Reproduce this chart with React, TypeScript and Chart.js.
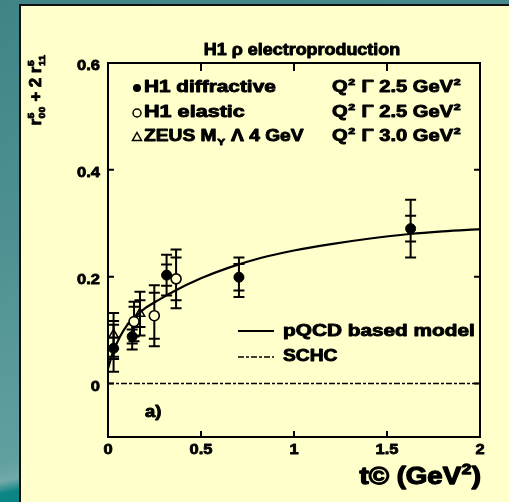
import React, { useEffect, useRef } from "react";
import { Chart, registerables } from "chart.js";

Chart.register(...registerables);

// pQCD based model curve
const modelT = [0, 0.03, 0.065, 0.1, 0.15, 0.2, 0.28, 0.35, 0.5, 0.65, 0.82, 1.0, 1.2, 1.4, 1.62, 1.8, 2.0];
const modelY = [0.028, 0.062, 0.088, 0.108, 0.126, 0.141, 0.158, 0.172, 0.197, 0.217, 0.235, 0.249, 0.261, 0.271, 0.28, 0.285, 0.289];

// SCHC expectation
const schcT = [0, 2];
const schcY = [0, 0];

// H1 diffractive
const diffT = [0.03, 0.13, 0.315, 0.704, 1.627];
const diffY = [0.066, 0.088, 0.203, 0.199, 0.29];
const diffStat = [0.02, 0.013, 0.02, 0.025, 0.024];
const diffTot = [0.044, 0.024, 0.038, 0.037, 0.054];

// H1 elastic
const elasT = [0.14, 0.249, 0.366];
const elasY = [0.116, 0.127, 0.196];
const elasStat = [0.028, 0.043, 0.04];
const elasTot = [0.037, 0.057, 0.055];

// ZEUS
const zeusT = [0.03, 0.172];
const zeusY = [0.091, 0.131];
const zeusStat = [0.026, 0.025];
const zeusTot = [0.041, 0.041];

const xTickValues = [0, 0.5, 1, 1.5, 2];
const xTickLabels = ["0", "0.5", "1", "1.5", "2"];
const yTickValues = [0, 0.2, 0.4, 0.6];
const yTickLabels = ["0", "0.2", "0.4", "0.6"];

const PANEL = "#FFFFCC";
const INK = "#000000";
const FAMILY = '"Liberation Sans", Arial, sans-serif';

type Piece = string | { sup?: string; sub?: string };

const fontOf = (size: number) => `bold ${size}px ${FAMILY}`;

function piecesWidth(ctx: CanvasRenderingContext2D, pieces: Piece[], size: number) {
  let w = 0;
  for (const p of pieces) {
    if (typeof p === "string") {
      ctx.font = fontOf(size);
      w += ctx.measureText(p).width;
    } else {
      ctx.font = fontOf(size * 0.62);
      w += Math.max(p.sup ? ctx.measureText(p.sup).width : 0, p.sub ? ctx.measureText(p.sub).width : 0) + 1;
    }
  }
  return w;
}

// heavy text: fill plus a thin stroke of the same ink
function heavyText(ctx: CanvasRenderingContext2D, s: string, x: number, y: number) {
  ctx.fillText(s, x, y);
  ctx.strokeText(s, x, y);
}

function drawRich(
  ctx: CanvasRenderingContext2D,
  pieces: Piece[],
  x: number,
  y: number,
  size: number,
  align: "left" | "center" | "right",
  stretch: number
) {
  const w = piecesWidth(ctx, pieces, size) * stretch;
  let x0 = x;
  if (align === "center") x0 = x - w / 2;
  if (align === "right") x0 = x - w;
  ctx.save();
  ctx.translate(x0, y);
  ctx.scale(stretch, 1);
  ctx.fillStyle = INK;
  ctx.strokeStyle = INK;
  ctx.lineWidth = Math.max(0.6, size * 0.055);
  ctx.lineJoin = "round";
  ctx.setLineDash([]);
  ctx.textAlign = "left";
  ctx.textBaseline = "middle";
  let cx = 0;
  for (const p of pieces) {
    if (typeof p === "string") {
      ctx.font = fontOf(size);
      heavyText(ctx, p, cx, 0);
      cx += ctx.measureText(p).width;
    } else {
      ctx.font = fontOf(size * 0.62);
      let sw = 0;
      if (p.sup) {
        heavyText(ctx, p.sup, cx + 0.5, -size * 0.36);
        sw = Math.max(sw, ctx.measureText(p.sup).width);
      }
      if (p.sub) {
        heavyText(ctx, p.sub, cx + 0.5, size * 0.3);
        sw = Math.max(sw, ctx.measureText(p.sub).width);
      }
      cx += sw + 1;
    }
  }
  ctx.restore();
}

const errorSets = [
  { t: diffT, y: diffY, stat: diffStat, tot: diffTot },
  { t: elasT, y: elasY, stat: elasStat, tot: elasTot },
  { t: zeusT, y: zeusY, stat: zeusStat, tot: zeusTot },
];

const errorBars = {
  id: "errorBars",
  beforeDatasetsDraw(chart: any) {
    const { ctx } = chart;
    const xs = chart.scales.x;
    const ys = chart.scales.y;
    const half = 5.5;
    ctx.save();
    ctx.strokeStyle = INK;
    ctx.lineWidth = 2;
    for (const s of errorSets) {
      s.t.forEach((t, i) => {
        const px = xs.getPixelForValue(t);
        const top = ys.getPixelForValue(s.y[i] + s.tot[i]);
        const bot = ys.getPixelForValue(s.y[i] - s.tot[i]);
        const sTop = ys.getPixelForValue(s.y[i] + s.stat[i]);
        const sBot = ys.getPixelForValue(s.y[i] - s.stat[i]);
        ctx.beginPath();
        ctx.moveTo(px, top);
        ctx.lineTo(px, bot);
        for (const cy of [top, bot, sTop, sBot]) {
          ctx.moveTo(px - half, cy);
          ctx.lineTo(px + half, cy);
        }
        ctx.stroke();
      });
    }
    ctx.restore();
  },
};

const frameAndText = {
  id: "frameAndText",
  afterDraw(chart: any) {
    const { ctx, chartArea: a } = chart;
    const xs = chart.scales.x;
    const ys = chart.scales.y;
    ctx.save();
    ctx.strokeStyle = INK;
    ctx.lineWidth = 2;
    ctx.strokeRect(a.left, a.top, a.right - a.left, a.bottom - a.top);

    // inward ticks
    ctx.beginPath();
    xTickValues.forEach((v) => {
      const px = xs.getPixelForValue(v);
      if (px <= a.left + 1 || px >= a.right - 1) return;
      ctx.moveTo(px, a.bottom);
      ctx.lineTo(px, a.bottom - 6);
      ctx.moveTo(px, a.top);
      ctx.lineTo(px, a.top + 8);
    });
    yTickValues.forEach((v) => {
      const py = ys.getPixelForValue(v);
      if (py <= a.top + 1 || py >= a.bottom - 1) return;
      ctx.moveTo(a.left, py);
      ctx.lineTo(a.left + 6, py);
      ctx.moveTo(a.right, py);
      ctx.lineTo(a.right - 6, py);
    });
    ctx.stroke();

    // tick labels
    xTickValues.forEach((v, i) => {
      drawRich(ctx, [xTickLabels[i]], xs.getPixelForValue(v), a.bottom + 13, 15, "center", 1.1);
    });
    yTickValues.forEach((v, i) => {
      drawRich(ctx, [yTickLabels[i]], a.left - 8, ys.getPixelForValue(v) + 3, 15, "right", 1.1);
    });

    // axis titles
    drawRich(ctx, ["t© (GeV", { sup: "2" }, ")"], a.right + 1, 478, 23, "right", 1.2);
    ctx.save();
    ctx.translate(37, 90);
    ctx.rotate(-Math.PI / 2);
    drawRich(ctx, ["r", { sup: "5", sub: "00" }, " + 2 r", { sup: "5", sub: "11" }], 0, 0, 16, "center", 1.05);
    ctx.restore();

    // title
    drawRich(ctx, ["H1 ρ electroproduction"], 302, 51, 16, "center", 1.12);

    // data legend
    const mx = 137;
    const tx = 144;
    const rx = 332;
    const rows = [88, 113, 137];
    ctx.fillStyle = INK;
    ctx.lineWidth = 1.5;
    ctx.beginPath();
    ctx.arc(mx, rows[0], 4, 0, Math.PI * 2);
    ctx.fill();
    ctx.beginPath();
    ctx.fillStyle = PANEL;
    ctx.arc(mx, rows[1], 4, 0, Math.PI * 2);
    ctx.fill();
    ctx.stroke();
    ctx.beginPath();
    ctx.moveTo(mx, rows[2] - 4.5);
    ctx.lineTo(mx + 4.5, rows[2] + 3.5);
    ctx.lineTo(mx - 4.5, rows[2] + 3.5);
    ctx.closePath();
    ctx.stroke();

    drawRich(ctx, ["H1 diffractive"], tx, rows[0], 16, "left", 1.3);
    drawRich(ctx, ["H1 elastic"], tx, rows[1], 16, "left", 1.35);
    drawRich(ctx, ["ZEUS M", { sub: "Y" }, " Λ 4 GeV"], tx, rows[2], 16, "left", 1.2);
    drawRich(ctx, ["Q", { sup: "2" }, " Γ 2.5 GeV", { sup: "2" }], rx, rows[0], 16, "left", 1.26);
    drawRich(ctx, ["Q", { sup: "2" }, " Γ 2.5 GeV", { sup: "2" }], rx, rows[1], 16, "left", 1.26);
    drawRich(ctx, ["Q", { sup: "2" }, " Γ 3.0 GeV", { sup: "2" }], rx, rows[2], 16, "left", 1.26);

    // model legend
    ctx.strokeStyle = INK;
    ctx.lineWidth = 2;
    ctx.setLineDash([]);
    ctx.beginPath();
    ctx.moveTo(238, 331);
    ctx.lineTo(274, 331);
    ctx.stroke();
    ctx.lineWidth = 1.5;
    ctx.setLineDash([6, 2, 3, 2]);
    ctx.beginPath();
    ctx.moveTo(238, 357);
    ctx.lineTo(274, 357);
    ctx.stroke();
    ctx.setLineDash([]);
    drawRich(ctx, ["pQCD based model"], 283, 332, 16, "left", 1.3);
    drawRich(ctx, ["SCHC"], 283, 357, 16, "left", 1.2);

    drawRich(ctx, ["a)"], 145, 413, 16, "left", 1.15);
    ctx.restore();
  },
};

const pts = (xs: number[], ys: number[]) => xs.map((x, i) => ({ x, y: ys[i] }));

export default function App() {
  const ref = useRef<HTMLCanvasElement>(null);

  useEffect(() => {
    const chart = new Chart(ref.current as HTMLCanvasElement, {
      type: "scatter",
      data: {
        datasets: [
          {
            label: "H1 diffractive",
            data: pts(diffT, diffY),
            pointStyle: "circle",
            pointRadius: 5,
            backgroundColor: INK,
            borderColor: INK,
            borderWidth: 1,
          },
          {
            label: "H1 elastic",
            data: pts(elasT, elasY),
            pointStyle: "circle",
            pointRadius: 5,
            backgroundColor: PANEL,
            borderColor: INK,
            borderWidth: 1.6,
          },
          {
            label: "ZEUS",
            data: pts(zeusT, zeusY),
            pointStyle: "triangle",
            pointRadius: 5.5,
            backgroundColor: "rgba(0,0,0,0)",
            borderColor: INK,
            borderWidth: 1.5,
          },
          {
            label: "pQCD based model",
            data: pts(modelT, modelY),
            showLine: true,
            pointRadius: 0,
            borderColor: INK,
            borderWidth: 2.2,
            cubicInterpolationMode: "monotone",
          },
          {
            label: "SCHC",
            data: pts(schcT, schcY),
            showLine: true,
            pointRadius: 0,
            borderColor: INK,
            borderWidth: 1.5,
            borderDash: [6, 2, 3, 2],
          },
        ],
      },
      options: {
        responsive: false,
        animation: false,
        devicePixelRatio: 1,
        events: [],
        layout: { padding: { left: 108, right: 29, top: 63, bottom: 65 } },
        plugins: {
          legend: { display: false },
          title: { display: false },
          tooltip: { enabled: false },
        },
        scales: {
          x: { type: "linear", min: 0, max: 2, display: false },
          y: { type: "linear", min: -0.1, max: 0.6, display: false },
        },
      },
      plugins: [errorBars, frameAndText],
    } as any);
    return () => chart.destroy();
  }, []);

  return (
    <div
      style={{
        position: "absolute",
        left: 0,
        top: 0,
        width: 509,
        height: 502,
        overflow: "hidden",
        background:
          "linear-gradient(168deg, #3f8587 0%, #4f9192 40%, #62a0a0 76%, #70a9a8 79%, #0c8585 81%, #007d7d 100%)",
      }}
    >
      <div
        style={{
          position: "absolute",
          left: 19,
          top: 4,
          width: 490,
          height: 498,
          boxSizing: "border-box",
          background: PANEL,
          borderLeft: "2px solid #111",
          borderTop: "2px solid #111",
        }}
      />
      <canvas
        ref={ref}
        width={509}
        height={502}
        style={{ position: "absolute", left: 0, top: 0, width: 509, height: 502 }}
      />
    </div>
  );
}
